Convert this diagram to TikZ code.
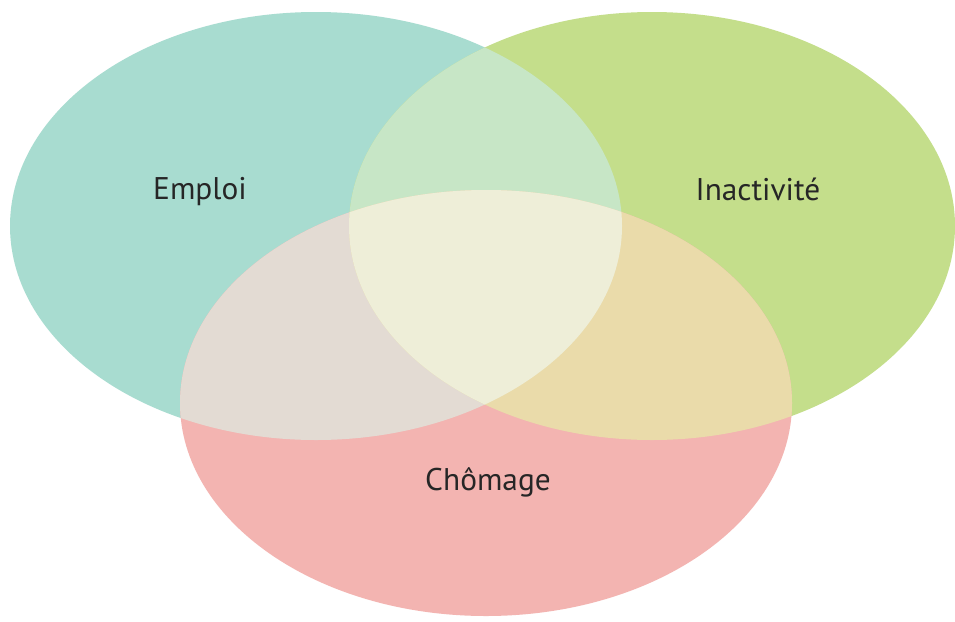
\documentclass[tikz,border=0pt]{standalone}
\usepackage{fontspec}
\setmainfont{PT Sans}
\usepackage{xcolor}
\usepackage{tikz}
\usetikzlibrary{positioning}

\definecolor{tealset}{HTML}{A8DCD0}
\definecolor{greenset}{HTML}{C4DE8B}
\definecolor{pinkset}{HTML}{F3B4B1}
\definecolor{tealgreen}{HTML}{C7E6C6}
\definecolor{tealpink}{HTML}{E3DBD3}
\definecolor{greenpink}{HTML}{EADBAA}
\definecolor{allsets}{HTML}{EEEED8}

\def\emploiset{(316,226) ellipse [x radius=229.5pt, y radius=160.5pt]}
\def\inactset{(652,226) ellipse [x radius=227.25pt, y radius=160.5pt]}
\def\chomset{(486,403) ellipse [x radius=229.5pt, y radius=159.75pt]}

\begin{document}
\begin{tikzpicture}[x=0.75pt,y=-0.75pt]
      \tikzset{setlabel/.style={anchor=base, text=black!85, font=\fontsize{23.5pt}{28pt}\selectfont}}
      \useasboundingbox (0,0) rectangle (955,621);
      \fill[white] (0,0) rectangle (955,621);

      % the three sets
      \fill[tealset] \emploiset;
      \fill[greenset] \inactset;
      \fill[pinkset] \chomset;

      % pairwise overlaps
      \begin{scope}
        \clip \emploiset;
        \fill[tealgreen] \inactset;
        \fill[tealpink] \chomset;
      \end{scope}
      \begin{scope}
        \clip \inactset;
        \fill[greenpink] \chomset;
      \end{scope}

      % middle
      \begin{scope}
        \clip \emploiset;
        \clip \inactset;
        \fill[allsets] \chomset;
      \end{scope}

      \node[setlabel] (emploi) at (200,199) {Emploi};
      \node[setlabel] (inactivite) at (758,200) {Inactivité};
      \node[setlabel] (chomage) at (488,490) {Chômage};
    \end{tikzpicture}
\end{document}
